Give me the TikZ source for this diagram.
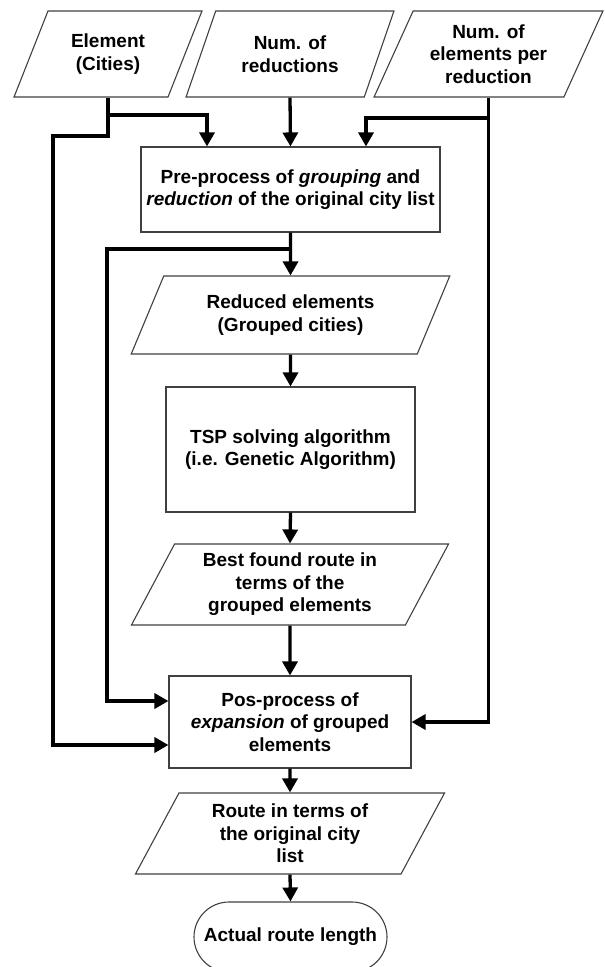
\documentclass[tikz,border=0pt]{standalone}
\usepackage{fontspec}
\setmainfont{Liberation Sans}
\usetikzlibrary{shapes.geometric,arrows.meta}

\begin{document}
\begin{tikzpicture}[x=1pt,y=-1pt,>={Triangle[length=14pt,width=15pt]},
  txt/.style={font=\bfseries\fontsize{19}{22.5}\selectfont,align=center,inner sep=2pt},
  io/.style={txt,draw=black!75,line width=1.1pt,trapezium,trapezium left angle=63.5,trapezium right angle=116.5,trapezium stretches=true},
  proc/.style={txt,draw=black!75,line width=1.1pt,rectangle},
  term/.style={txt,draw=black!75,line width=1.1pt,rectangle,rounded corners=35pt},
  flow/.style={->,line width=3.3pt}]
\useasboundingbox (0,0) rectangle (605,967);
\node[io,minimum width=188pt,minimum height=86pt] (cities) at (108,54) {Element\\(Cities)};
\node[io,minimum width=208pt,minimum height=86pt] (nred) at (290,54) {Num. of\\reductions};
\node[io,minimum width=229pt,minimum height=86pt] (nper) at (488.5,54) {Num. of\\elements per\\reduction};
\node[proc,minimum width=299pt,minimum height=85pt] (pre) at (290.5,189.5) {Pre-process of \textit{grouping} and\\\textit{reduction} of the original city list};
\node[io,minimum width=319pt,minimum height=78pt] (red) at (290.5,315) {Reduced elements\\(Grouped cities)};
\node[proc,minimum width=249pt,minimum height=125pt] (tsp) at (290.5,449.5) {TSP solving algorithm\\(i.e. Genetic Algorithm)};
\node[io,minimum width=318pt,minimum height=81pt] (best) at (290,584.5) {Best found route in\\terms of the\\grouped elements};
\node[proc,minimum width=242pt,minimum height=92pt] (post) at (290,722) {Pos-process of\\\textit{expansion} of grouped\\elements};
\node[io,minimum width=310pt,minimum height=81pt] (route) at (290,833.5) {Route in terms of\\the original city\\list};
\node[term,minimum width=193pt,minimum height=70pt] (len) at (290.5,937) {Actual route length};
\coordinate (j1) at (108,115);
\coordinate (j2) at (53,136);
\coordinate (j3) at (488.5,118);
\coordinate (j4) at (290.5,249);
\coordinate (j5) at (107,249);
\draw[flow] (cities.south) |- (j2) |- ([yshift=-23pt]post.west);
\draw[flow] (j1) -| ([xshift=-83.5pt]pre.north);
\draw[flow] (nred.south) -- (pre.north);
\draw[flow] (nper.south) |- (post.east);
\draw[flow] (j3) -| ([xshift=75.5pt]pre.north);
\draw[flow] (pre.south) -- (red.north);
\draw[flow] (j4) -- (j5) |- ([yshift=21pt]post.west);
\draw[flow] (red.south) -- (tsp.north);
\draw[flow] (tsp.south) -- (best.north);
\draw[flow] (best.south) -- (post.north);
\draw[flow] (post.south) -- (route.north);
\draw[flow] (route.south) -- (len.north);
\end{tikzpicture}
\end{document}
